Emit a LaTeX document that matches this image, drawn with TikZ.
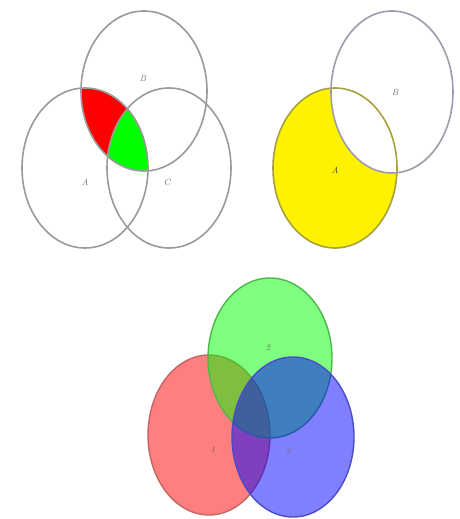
\documentclass[tikz,border=0pt]{standalone}
\usepackage{tikz}
\usetikzlibrary{positioning}
\definecolor{ring}{HTML}{9A9A9A}
\definecolor{ringb}{HTML}{9C9CAA}
\definecolor{olive}{HTML}{A8A040}
\definecolor{vred}{HTML}{FF0000}
\definecolor{vgreen}{HTML}{00FF00}
\definecolor{vblue}{HTML}{0000FF}
\definecolor{ink}{HTML}{707070}

\begin{document}
\begin{tikzpicture}[x=1pt, y=1pt,
  o/.style={line width=1.6pt, draw=ring},
  lab/.style={font=\small\itshape, text=ink, inner sep=1pt},
  blend/.style={fill opacity=0.5, line width=1.4pt}
]
\useasboundingbox[fill=white] (0,0) rectangle (460,519);
% top left: three sets
\def\lA{(85,351) ellipse [x radius=63, y radius=80]}
\def\lB{(144,428) ellipse [x radius=63, y radius=80]}
\def\lC{(169,351) ellipse [x radius=62, y radius=80]}
\begin{scope}
  \clip \lA; \clip \lB;
  \fill[vred] \lB;
  \clip \lC;
  \fill[vgreen] \lC;
\end{scope}
\draw[o] \lA; \draw[o] \lB; \draw[o] \lC;
\node[lab] (la) at (85,337)  {A};
\node[lab] (lb) at (143,441) {B};
\node[lab] (lc) at (167,337) {C};
% top right: difference
\def\rA{(335,351) ellipse [x radius=62, y radius=80]}
\def\rB{(392,427) ellipse [x radius=61, y radius=81]}
\fill[yellow] \rA;
\fill[white] \rB;
\draw[o, draw=olive] \rA;
\draw[o, draw=ringb] \rB;
\node[lab, text=black!75] (ra) at (335,349) {A};
\node[lab] (rb) at (395,427) {B};
% bottom: three blended sets
\path[blend, fill=vred, draw=red!60!black!60] (209,84) ellipse [x radius=61, y radius=80];
\path[blend, fill=vgreen, draw=green!60!black!70] (270,161) ellipse [x radius=62, y radius=80];
\path[blend, fill=vblue, draw=blue!70!black!70] (293,82) ellipse [x radius=61, y radius=80];
\node[lab, text=black!60] (b2) at (268,171) {2};
\node[lab, text=black!60] (b1) at (213,69)  {1};
\node[lab, text=black!60] (b3) at (288,67)  {3};
\end{tikzpicture}
\end{document}
